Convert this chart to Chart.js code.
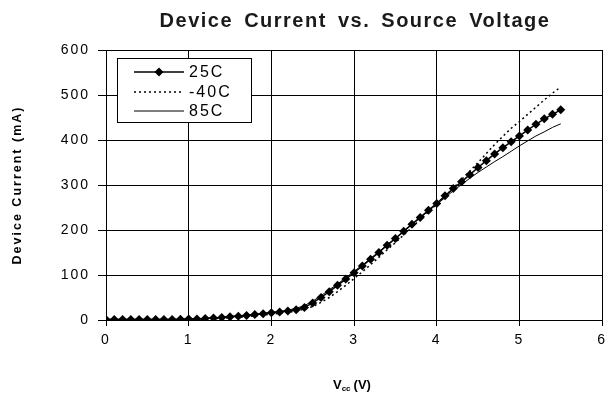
<!DOCTYPE html>
<html>
<head>
<meta charset="utf-8">
<script src="https://cdn.jsdelivr.net/npm/chart.js@4.4.0/dist/chart.umd.min.js"></script>
<style>
  html, body { margin: 0; padding: 0; background: #fff; }
  #wrap { width: 612px; height: 400px; }
</style>
</head>
<body>
<div id="wrap"><canvas id="chart" width="612" height="400"></canvas></div>
<script>
  const volts = [0, 0.1, 0.2, 0.3, 0.4, 0.5, 0.6, 0.7, 0.8, 0.9,
    1.0, 1.1, 1.2, 1.3, 1.4, 1.5, 1.6, 1.7, 1.8, 1.9,
    2.0, 2.1, 2.2, 2.3, 2.4, 2.5, 2.6, 2.7, 2.8, 2.9,
    3.0, 3.1, 3.2, 3.3, 3.4, 3.5, 3.6, 3.7, 3.8, 3.9,
    4.0, 4.1, 4.2, 4.3, 4.4, 4.5, 4.6, 4.7, 4.8, 4.9,
    5.0, 5.1, 5.2, 5.3, 5.4, 5.5];

  const current25 = [1, 1, 1, 1, 1, 1, 1, 1, 1, 1.5,
    2, 2.5, 3.5, 4.5, 5.5, 7, 8.5, 10, 12, 14,
    16, 18, 20, 23, 28, 38, 50, 63, 77, 91,
    105, 120, 135, 150, 166, 181, 197, 213, 228, 244,
    259, 276, 292, 307, 323, 339, 354, 369, 383, 396,
    409, 422, 435, 447, 457, 467];

  const currentMinus40 = [0.5, 0.5, 0.5, 0.5, 0.5, 0.5, 0.5, 0.5, 0.5, 0.5,
    1, 1.5, 2, 3, 4, 5, 6, 7.5, 9, 11,
    13, 15, 17, 20, 24, 30, 39, 50, 63, 77,
    92, 107, 123, 139, 156, 172, 189, 206, 223, 240,
    257, 275, 293, 312, 331, 350, 370, 390, 408, 426,
    441, 457, 473, 489, 504, 518];

  const current85 = [1.5, 1.5, 1.5, 1.5, 1.5, 1.5, 1.5, 1.5, 1.5, 1.5,
    2.5, 3, 4, 5, 6.5, 8, 9.5, 11, 13, 15,
    17, 19, 22, 26, 32, 42, 54, 67, 80, 94,
    108, 122, 137, 152, 167, 182, 197, 212, 227, 242,
    257, 272, 287, 301, 315, 328, 340, 352, 363, 375,
    387, 398, 409, 418, 428, 436];

  const seriesNames = ['25C', '-40C', '85C'];
  const xTicks = [0, 1, 2, 3, 4, 5, 6];
  const yTicks = [0, 100, 200, 300, 400, 500, 600];

  const FONT = "'Liberation Sans', Arial, sans-serif";

  function pts(ys) {
    return volts.map((v, i) => ({ x: v, y: ys[i] }));
  }

  // title, x-axis title with subscript and the boxed legend
  const decorations = {
    id: 'decorations',
    beforeDraw(chart) {
      chart.ctx.letterSpacing = '2px';
    },
    afterDraw(chart) {
      const ctx = chart.ctx;
      ctx.save();
      ctx.fillStyle = '#000';
      ctx.textBaseline = 'middle';

      ctx.letterSpacing = '1.5px';
      ctx.wordSpacing = '4px';
      ctx.font = 'bold 20px ' + FONT;
      ctx.fillStyle = '#1a1a1a';
      ctx.textAlign = 'center';
      ctx.fillText('Device Current vs. Source Voltage', 355, 21);
      ctx.wordSpacing = '0px';
      ctx.fillStyle = '#000';

      // Vcc (V)
      ctx.letterSpacing = '0px';
      ctx.textAlign = 'left';
      ctx.font = 'bold 13px ' + FONT;
      let x = 333;
      ctx.fillText('V', x, 385);
      x += ctx.measureText('V').width;
      ctx.font = 'bold 8px ' + FONT;
      ctx.fillText('cc', x, 389);
      x += ctx.measureText('cc').width + 3;
      ctx.font = 'bold 13px ' + FONT;
      ctx.fillText('(V)', x, 385);

      // legend
      ctx.fillStyle = '#fff';
      ctx.fillRect(117.5, 58.5, 134, 64);
      ctx.strokeStyle = '#000';
      ctx.lineWidth = 1;
      ctx.strokeRect(117.5, 58.5, 134, 64);
      const rows = [72, 92, 111];
      chart.data.datasets.forEach((ds, i) => {
        const y = rows[i];
        ctx.beginPath();
        ctx.setLineDash(ds.borderDash || []);
        ctx.lineWidth = ds.borderWidth;
        ctx.moveTo(134, y);
        ctx.lineTo(184, y);
        ctx.stroke();
        ctx.setLineDash([]);
        if (ds.pointRadius > 0) {
          const r = ds.pointRadius;
          ctx.fillStyle = '#000';
          ctx.beginPath();
          ctx.moveTo(159, y - r);
          ctx.lineTo(159 + r, y);
          ctx.lineTo(159, y + r);
          ctx.lineTo(159 - r, y);
          ctx.closePath();
          ctx.fill();
        }
        ctx.fillStyle = '#000';
        ctx.letterSpacing = '2px';
        ctx.font = '16px ' + FONT;
        ctx.fillText(ds.label, 189, y + 1);
      });
      ctx.restore();
    }
  };

  new Chart(document.getElementById('chart'), {
    type: 'line',
    data: {
      datasets: [
        {
          label: seriesNames[0],
          data: pts(current25),
          borderColor: '#000',
          backgroundColor: '#000',
          borderWidth: 1.5,
          pointStyle: 'rectRot',
          pointRadius: 4.5,
          pointBorderWidth: 0,
          order: 0
        },
        {
          label: seriesNames[1],
          data: pts(currentMinus40),
          borderColor: '#000',
          borderWidth: 1.5,
          borderDash: [2, 3],
          pointRadius: 0,
          order: 1
        },
        {
          label: seriesNames[2],
          data: pts(current85),
          borderColor: '#000',
          borderWidth: 1,
          pointRadius: 0,
          order: 2
        }
      ]
    },
    options: {
      responsive: false,
      animation: false,
      events: [],
      layout: { padding: { top: 50, right: 3, left: 0, bottom: 0 } },
      elements: { line: { tension: 0 } },
      scales: {
        x: {
          type: 'linear',
          min: 0,
          max: 6,
          afterBuildTicks: (s) => { s.ticks = xTicks.map(v => ({ value: v })); },
          afterFit: (s) => { s.height = 80; },
          ticks: { color: '#000', padding: 6, font: { family: FONT, size: 14 } },
          grid: { color: '#000', lineWidth: 1, tickLength: 6 },
          border: { color: '#000', width: 1 }
        },
        y: {
          min: 0,
          max: 600,
          afterBuildTicks: (s) => { s.ticks = yTicks.map(v => ({ value: v })); },
          afterFit: (s) => { s.width = 106; },
          ticks: { color: '#000', padding: 8, font: { family: FONT, size: 14 } },
          grid: { color: '#000', lineWidth: 1, tickLength: 8 },
          border: { color: '#000', width: 1 },
          title: {
            display: true,
            text: 'Device Current (mA)',
            color: '#000',
            font: { family: FONT, size: 12.5, weight: 'bold' },
            padding: { top: 10, bottom: 0 }
          }
        }
      },
      plugins: {
        legend: { display: false },
        title: { display: false },
        tooltip: { enabled: false }
      }
    },
    plugins: [decorations]
  });
</script>
</body>
</html>
